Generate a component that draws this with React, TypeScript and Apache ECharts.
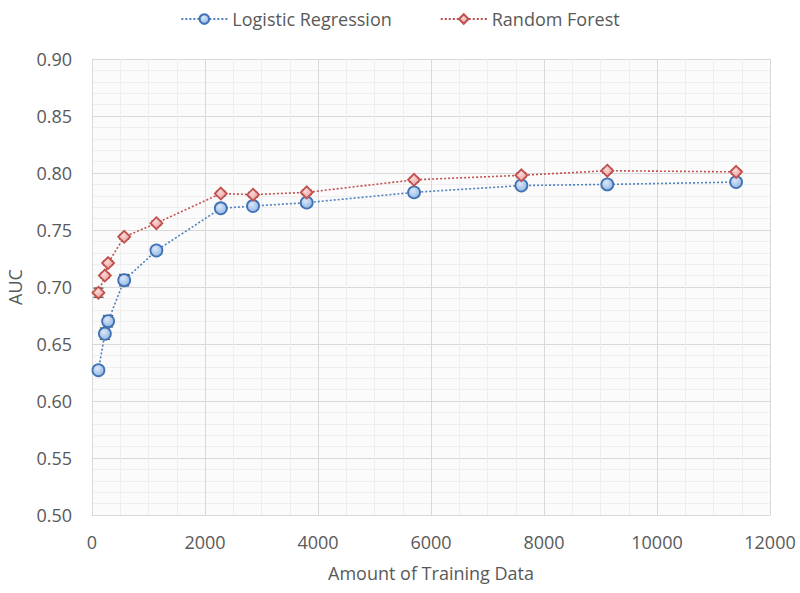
import React, { useEffect, useRef } from "react";
import * as echarts from "echarts";

const trainSizes = [114, 228, 285, 570, 1140, 2280, 2850, 3800, 5700, 7600, 9120, 11400];
const lrAUC = [0.627, 0.659, 0.670, 0.706, 0.732, 0.769, 0.771, 0.774, 0.783, 0.789, 0.790, 0.792];
const rfAUC = [0.695, 0.710, 0.721, 0.744, 0.756, 0.782, 0.781, 0.783, 0.794, 0.798, 0.802, 0.801];
const lrErr = [0.002, 0.005, 0.005, 0.005, 0.002, 0.002, 0.002, 0.002, 0.002, 0.002, 0.002, 0.002];
const rfErr = [0.004, 0.002, 0.002, 0.002, 0.002, 0.002, 0.002, 0.002, 0.002, 0.002, 0.002, 0.002];
const seriesNames = ["Logistic Regression", "Random Forest"];

const FONT = "'Open Sans', sans-serif";

function errData(vals: number[], errs: number[]) {
  return trainSizes.map((x, i) => [x, vals[i] - errs[i], vals[i] + errs[i]]);
}

function errRender(params: any, api: any) {
  const x = api.value(0);
  const lo = api.coord([x, api.value(1)]);
  const hi = api.coord([x, api.value(2)]);
  const hw = 5;
  const style = { stroke: "#404040", lineWidth: 1.2 };
  return {
    type: "group",
    children: [
      { type: "line", shape: { x1: lo[0], y1: lo[1], x2: hi[0], y2: hi[1] }, style },
      { type: "line", shape: { x1: lo[0] - hw, y1: lo[1], x2: lo[0] + hw, y2: lo[1] }, style },
      { type: "line", shape: { x1: hi[0] - hw, y1: hi[1], x2: hi[0] + hw, y2: hi[1] }, style },
    ],
  };
}

export default function App() {
  const ref = useRef<HTMLDivElement>(null);
  useEffect(() => {
    if (!ref.current) return;
    const chart = echarts.init(ref.current, undefined, { renderer: "svg" });
    const blueFill = new echarts.graphic.RadialGradient(0.4, 0.35, 0.7, [
      { offset: 0, color: "#dbe8f8" },
      { offset: 1, color: "#8fb4e3" },
    ]);
    const redFill = new echarts.graphic.RadialGradient(0.4, 0.35, 0.7, [
      { offset: 0, color: "#fbdada" },
      { offset: 1, color: "#e99a98" },
    ]);
    chart.setOption({
      animation: false,
      backgroundColor: "#ffffff",
      textStyle: { fontFamily: FONT },
      legend: {
        top: 5,
        left: "center",
        itemWidth: 46,
        itemHeight: 12,
        itemGap: 48,
        textStyle: { fontFamily: FONT, fontSize: 18, color: "#595959" },
        data: seriesNames,
      },
      grid: {
        left: 92,
        right: 30,
        top: 59,
        bottom: 78,
        outerBoundsMode: "none",
        containLabel: false,
        show: true,
        backgroundColor: "#fbfbfb",
        borderWidth: 0,
      },
      xAxis: {
        type: "value",
        min: 0,
        max: 12000,
        interval: 2000,
        name: "Amount of Training Data",
        nameLocation: "middle",
        nameGap: 49,
        nameTextStyle: { fontFamily: FONT, fontSize: 18, color: "#595959" },
        axisLine: { show: true, lineStyle: { color: "#d9d9d9" } },
        axisTick: { show: false },
        axisLabel: {
          fontFamily: FONT,
          fontSize: 18,
          color: "#595959",
          margin: 18,
          formatter: (v: number) => String(v),
        },
        splitLine: { show: true, lineStyle: { color: "#d9d9d9", width: 1 } },
        minorTick: { show: false, splitNumber: 4 },
        minorSplitLine: { show: true, lineStyle: { color: "#eeeeee", width: 1 } },
      },
      yAxis: {
        type: "value",
        min: 0.5,
        max: 0.9,
        interval: 0.05,
        name: "AUC",
        nameLocation: "middle",
        nameGap: 68,
        nameRotate: 90,
        nameTextStyle: { fontFamily: FONT, fontSize: 18, color: "#595959" },
        axisLine: { show: true, lineStyle: { color: "#d9d9d9" } },
        axisTick: { show: false },
        axisLabel: {
          fontFamily: FONT,
          fontSize: 18,
          color: "#595959",
          margin: 20,
          formatter: (v: number) => v.toFixed(2),
        },
        splitLine: { show: true, lineStyle: { color: "#d9d9d9", width: 1 } },
        minorTick: { show: false, splitNumber: 5 },
        minorSplitLine: { show: true, lineStyle: { color: "#eeeeee", width: 1 } },
      },
      series: [
        {
          name: "lr-error",
          type: "custom",
          renderItem: errRender,
          data: errData(lrAUC, lrErr),
          z: 1,
          silent: true,
        },
        {
          name: "rf-error",
          type: "custom",
          renderItem: errRender,
          data: errData(rfAUC, rfErr),
          z: 1,
          silent: true,
        },
        {
          name: seriesNames[0],
          type: "line",
          data: trainSizes.map((x, i) => [x, lrAUC[i]]),
          symbol: "circle",
          symbolSize: 12,
          lineStyle: { color: "#4f81bd", width: 1.6, type: [2, 2] },
          itemStyle: { color: blueFill, borderColor: "#3f72b5", borderWidth: 1.8 },
          z: 3,
        },
        {
          name: seriesNames[1],
          type: "line",
          data: trainSizes.map((x, i) => [x, rfAUC[i]]),
          symbol: "diamond",
          symbolSize: 12,
          lineStyle: { color: "#c0504d", width: 1.6, type: [2, 2] },
          itemStyle: { color: redFill, borderColor: "#c0504d", borderWidth: 1.8 },
          z: 4,
        },
      ],
    });
    return () => chart.dispose();
  }, []);
  return (
    <div
      ref={ref}
      style={{ position: "absolute", left: 0, top: 0, width: 800, height: 593 }}
    />
  );
}
